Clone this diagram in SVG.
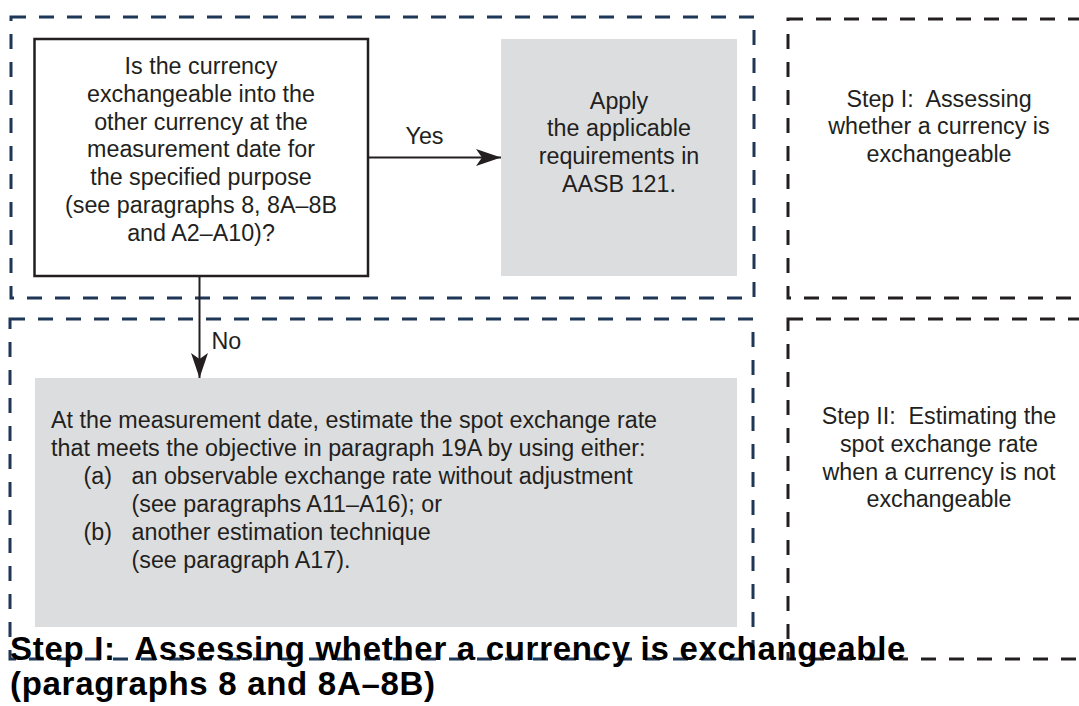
<svg xmlns="http://www.w3.org/2000/svg" width="1079" height="706" viewBox="0 0 1079 706">
<style>
.bg{fill:#ffffff}
.navy{fill:none;stroke:#1f3756;stroke-width:3;stroke-dasharray:15 13}
.blk{fill:none;stroke:#231f20;stroke-width:3;stroke-dasharray:15 13}
.dec{fill:#ffffff;stroke:#231f20;stroke-width:2.5}
.gray{fill:#dcdddf}
.t{font-family:"Liberation Sans",Arial,sans-serif;font-size:23.3px;fill:#231f20}
.c{text-anchor:middle}
.title{font-family:"Liberation Sans",Arial,sans-serif;font-size:33px;font-weight:bold;fill:#000000;letter-spacing:0.7px}
.conn{fill:none;stroke:#231f20;stroke-width:2}
</style>
<defs>
<marker id="ah" markerUnits="userSpaceOnUse" markerWidth="26" markerHeight="18" refX="25" refY="8.5" orient="auto">
<path d="M0,0 L25,8.5 L0,17 L6,8.5 z" fill="#231f20"/>
</marker>
</defs>
<rect class="bg" x="0" y="0" width="1079" height="706"/>
<g id="lanes">
<rect id="lane-top-left" class="navy" x="11" y="17" width="743" height="281"/>
<rect id="lane-bottom-left" class="navy" x="10" y="319" width="743" height="340"/>
<rect id="lane-top-right" class="blk" x="788" y="19" width="310" height="279"/>
<rect id="lane-bottom-right" class="blk" x="788" y="319" width="310" height="340"/>
</g>
<g id="decision">
<rect class="dec" x="34.5" y="39" width="333.5" height="237"/>
<text class="t c" x="201" y="74">Is the currency</text>
<text class="t c" x="201" y="101.8">exchangeable into the</text>
<text class="t c" x="201" y="129.6">other currency at the</text>
<text class="t c" x="201" y="157.4">measurement date for</text>
<text class="t c" x="201" y="185.2">the specified purpose</text>
<text class="t c" x="201" y="213">(see paragraphs 8, 8A–8B</text>
<text class="t c" x="201" y="240.8">and A2–A10)?</text>
</g>
<g id="apply">
<rect class="gray" x="501" y="39" width="236" height="237"/>
<text class="t c" x="619" y="108.5">Apply</text>
<text class="t c" x="619" y="136.3">the applicable</text>
<text class="t c" x="619" y="164.1">requirements in</text>
<text class="t c" x="619" y="191.9">AASB 121.</text>
</g>
<g id="estimate">
<rect class="gray" x="35" y="378" width="702" height="249"/>
<text class="t" x="51" y="428">At the measurement date, estimate the spot exchange rate</text>
<text class="t" x="51" y="456">that meets the objective in paragraph 19A by using either:</text>
<text class="t" x="83.5" y="484">(a)</text>
<text class="t" x="131.5" y="484">an observable exchange rate without adjustment</text>
<text class="t" x="131.5" y="512">(see paragraphs A11–A16); or</text>
<text class="t" x="83.5" y="540">(b)</text>
<text class="t" x="131.5" y="540">another estimation technique</text>
<text class="t" x="131.5" y="568">(see paragraph A17).</text>
</g>
<g id="step1-label">
<text class="t c" x="939" y="106.5" xml:space="preserve">Step I:  Assessing</text>
<text class="t c" x="939" y="134.3">whether a currency is</text>
<text class="t c" x="939" y="162.1">exchangeable</text>
</g>
<g id="step2-label">
<text class="t c" x="939" y="424" xml:space="preserve">Step II:  Estimating the</text>
<text class="t c" x="939" y="451.8">spot exchange rate</text>
<text class="t c" x="939" y="479.6">when a currency is not</text>
<text class="t c" x="939" y="507.4">exchangeable</text>
</g>
<g id="connectors">
<line class="conn" x1="368" y1="157.5" x2="501" y2="157.5" marker-end="url(#ah)"/>
<text class="t c" x="424.5" y="144">Yes</text>
<line class="conn" x1="199.5" y1="276" x2="199.5" y2="378" marker-end="url(#ah)"/>
<text class="t" x="211.5" y="349">No</text>
</g>
<g id="title">
<text class="title" x="10" y="660" xml:space="preserve">Step I:  Assessing whether a currency is exchangeable</text>
<text class="title" x="10" y="695">(paragraphs 8 and 8A–8B)</text>
</g>
</svg>
